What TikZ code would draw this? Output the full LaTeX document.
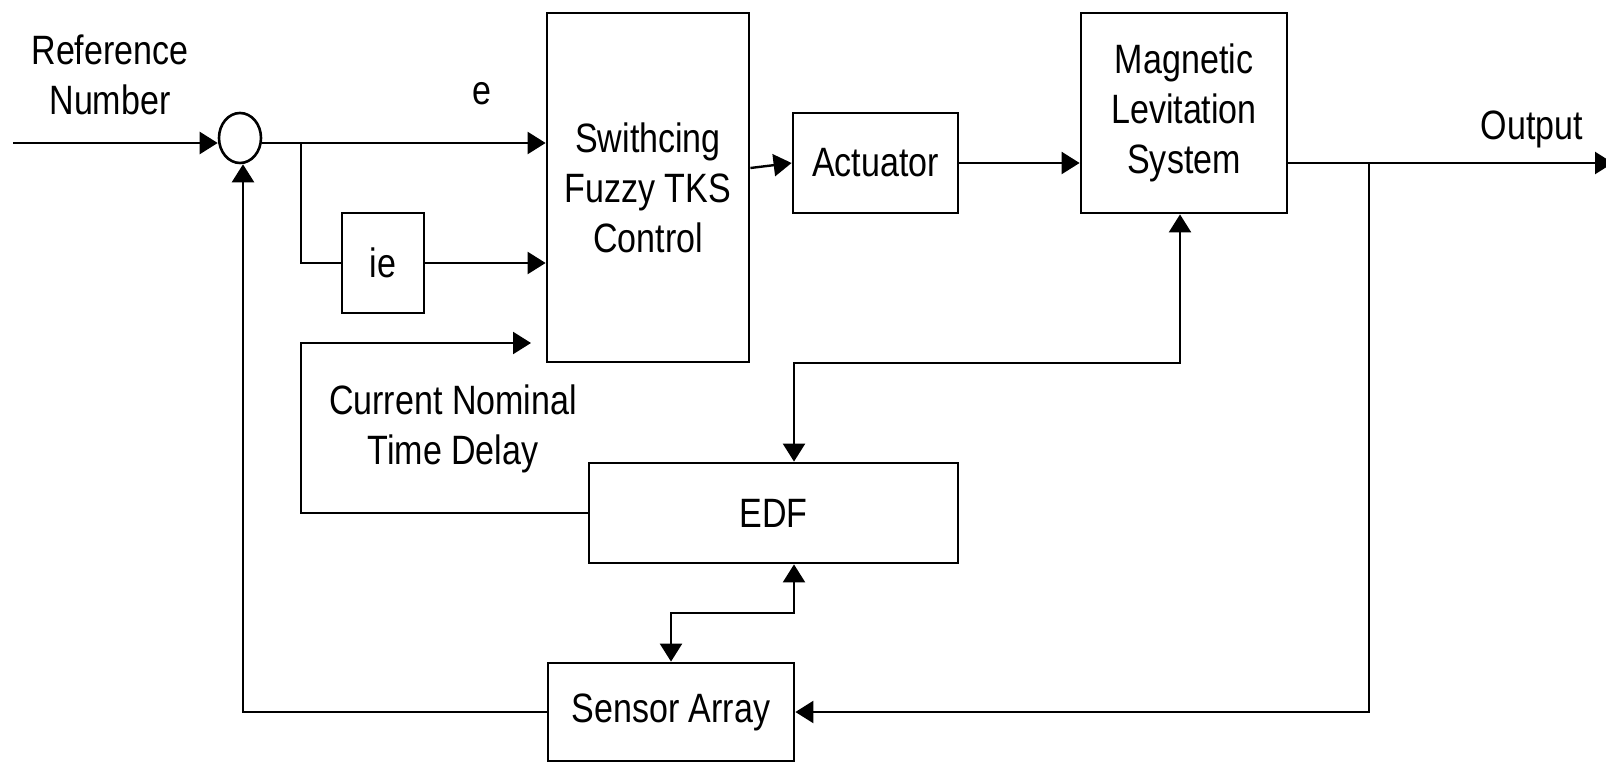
\documentclass[tikz,border=0pt]{standalone}
\usepackage{fontspec}
\setmainfont[FakeStretch=0.83]{Liberation Sans}
\usetikzlibrary{arrows.meta,calc,shapes.geometric}
\begin{document}
\begin{tikzpicture}[x=1pt,y=-1pt,
  txt/.style={font=\fontsize{41}{50}\selectfont},
  box/.style={txt,draw,line width=2.8pt,inner sep=0pt,align=center},
  lbl/.style={txt,inner sep=0pt,align=center},
  wire/.style={line width=2.4pt},
  conn/.style={wire,-{Triangle[length=18pt,width=22pt]}},
  both/.style={wire,{Triangle[length=18pt,width=22pt]}-{Triangle[length=18pt,width=22pt]}}
]
\useasboundingbox (0,0) rectangle (1606,762);
\fill[white] (0,0) rectangle (1606,762);

% blocks
\node[box,minimum width=202pt,minimum height=349pt] (swc) at (648,187.5) {Swithcing\\Fuzzy TKS\\Control};
\node[box,minimum width=165pt,minimum height=100pt] (act) at (875.5,163) {Actuator};
\node[box,minimum width=206pt,minimum height=200pt] (mag) at (1184,113) {Magnetic\\Levitation\\System};
\node[box,minimum width=82pt,minimum height=100pt] (ie) at (383,263) {ie};
\node[box,minimum width=369pt,minimum height=100pt] (edf) at (773.5,513) {EDF};
\node[box,minimum width=246pt,minimum height=98pt] (sen) at (671,712) {Sensor Array};
\node[draw,ellipse,line width=2.6pt,minimum width=42pt,minimum height=50pt,inner sep=0pt] (sum) at (240,138) {};

% labels
\node[lbl] (refl) at (110,75) {Reference\\Number};
\node[lbl] (el) at (482,94) {e};
\node[lbl,anchor=base] (outl) at (1532,140) {Output};
\node[lbl] (cntd) at (453,429) {Current Nominal\\Time Delay};

% coordinates
\coordinate (in) at (13,143);
\coordinate (eJ) at (301,143);
\coordinate (oJ) at (1369,163);
\coordinate (oEnd) at (1613,163);
\coordinate (mk) at (1180,363);
\coordinate (tdJ) at (301,343);
\coordinate (tdEnd) at (531,343);
\coordinate (sk) at (671,613);

% connectors
\draw[conn] (in) -- ($(sum.west)+(0,5)$);
\draw[conn] ($(sum.east)+(0,5)$) -- (swc.west |- eJ);
\draw[wire] (eJ) |- (ie.west);
\draw[conn] (ie.east) -- (swc.west |- ie.east);
\draw[conn] ([yshift=19.5pt]swc.east) -- (act.west);
\draw[conn] (act.east) -- (mag.west |- act.east);
\draw[conn] (mag.east |- act.east) -- (oEnd);
\draw[conn] (oJ) |- (sen.east);
\draw[both] ([xshift=20.5pt]edf.north) |- (mk) -- (mk |- mag.south);
\draw[conn] (edf.west) -| (tdJ) -- (tdEnd);
\draw[both] ([xshift=20.5pt]edf.south) |- (sk) -- (sen.north);
\draw[conn] (sen.west) -| ($(sum.south)+(3,0)$);
\end{tikzpicture}
\end{document}
